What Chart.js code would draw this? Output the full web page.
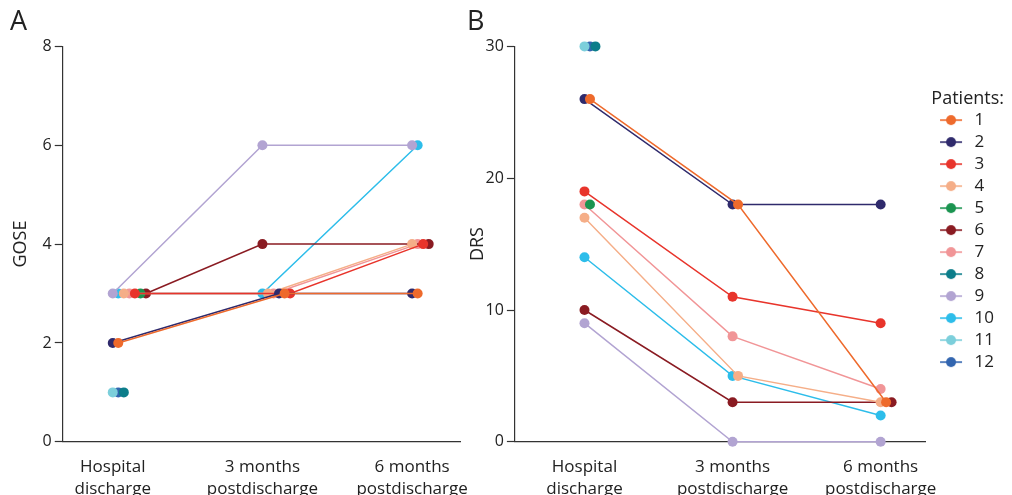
<!DOCTYPE html>
<html>
<head>
<meta charset="utf-8">
<script src="https://cdn.jsdelivr.net/npm/chart.js@4.4.1/dist/chart.umd.min.js"></script>
<style>
  html, body { margin: 0; padding: 0; background: #fff; width: 1012px; height: 495px; overflow: hidden; }
  #wrapA { position: absolute; left: 0; top: 0; width: 490px; height: 512px; }
  #wrapB { position: absolute; left: 463px; top: 0; width: 549px; height: 512px; }
</style>
</head>
<body>
<div id="wrapA"><canvas id="chartA"></canvas></div>
<div id="wrapB"><canvas id="chartB"></canvas></div>
<script>
// categories and tick labels
var timepoints = [['Hospital', 'discharge'], ['3 months', 'postdischarge'], ['6 months', 'postdischarge']];
var patients = ['1', '2', '3', '4', '5', '6', '7', '8', '9', '10', '11', '12'];
var colors = ['#EE6A2C', '#2F2A6C', '#E8342B', '#F5AE88', '#1B9450', '#8A1B22',
              '#F19597', '#0C7D8A', '#B2A4D2', '#2DBDEA', '#7CCFDB', '#3265AF'];

// GOSE per patient (index = patient - 1)
var goseDischarge = [2, 2, 3, 3, 3, 3, 3, 1, 3, 3, 1, 1];
var gose3m        = [3, 3, 3, 3, null, 4, 3, null, 6, 3, null, null];
var gose6m        = [3, 3, 4, 4, null, 4, 4, null, 6, 6, null, null];

// DRS per patient
var drsDischarge = [26, 26, 19, 17, 18, 10, 18, 30, 9, 14, 30, 30];
var drs3m        = [18, 18, 11, 5, null, 3, 8, null, 0, 5, null, null];
var drs6m        = [3, 18, 9, 3, null, 3, 4, null, 0, 2, null, null];

// order used to spread overlapping points sideways
var dodgeOrder = [9, 11, 10, 12, 4, 7, 2, 8, 1, 3, 5, 6];
var dodgeStep = 0.037;

var textColor = '#222';
var axisColor = '#333';
var fontFamily = "'Open Sans', 'Noto Sans', sans-serif";

function dodged(columns) {
  // returns x offsets [patient][time]
  var offs = patients.map(function () { return [0, 0, 0]; });
  columns.forEach(function (col, t) {
    var groups = {};
    dodgeOrder.forEach(function (p) {
      var v = col[p - 1];
      if (v === null) return;
      groups[v] = groups[v] || [];
      groups[v].push(p - 1);
    });
    Object.keys(groups).forEach(function (k) {
      groups[k].forEach(function (idx, r) { offs[idx][t] = r * dodgeStep; });
    });
  });
  return offs;
}

function buildDatasets(columns) {
  var offs = dodged(columns);
  return patients.map(function (p, i) {
    var pts = [];
    columns.forEach(function (col, t) {
      if (col[i] !== null) pts.push({ x: t + offs[i][t], y: col[i] });
    });
    return {
      label: p,
      data: pts,
      borderColor: colors[i],
      backgroundColor: colors[i],
      borderWidth: 1.5,
      pointRadius: 5,
      pointHoverRadius: 5,
      pointBorderWidth: 0,
      clip: false
    };
  });
}

// legend marker: short line with a dot, drawn inside a wider box
var markerBox = 36;
function markerImage(color) {
  var c = document.createElement('canvas');
  c.width = markerBox; c.height = 12;
  var g = c.getContext('2d');
  g.strokeStyle = color; g.lineWidth = 1.6;
  g.beginPath(); g.moveTo(10, 6); g.lineTo(32, 6); g.stroke();
  g.fillStyle = color;
  g.beginPath(); g.arc(21, 6, 5, 0, Math.PI * 2); g.fill();
  return c;
}
var markers = colors.map(markerImage);

function xScale(min, max) {
  return {
    type: 'linear', min: min, max: max,
    afterBuildTicks: function (axis) { axis.ticks = [0, 1, 2].map(function (v) { return { value: v }; }); },
    ticks: {
      callback: function (v) { return timepoints[v]; },
      font: { family: fontFamily, size: 17, lineHeight: 1.3 },
      color: textColor, padding: 6, maxRotation: 0, autoSkip: false
    },
    grid: { display: false },
    border: { display: true, color: axisColor, width: 1.2 }
  };
}

function yScale(max, step, title, titleGap) {
  return {
    min: 0, max: max,
    ticks: { stepSize: step, font: { family: fontFamily, size: 16 }, color: textColor, padding: 3 },
    grid: { drawOnChartArea: false, tickLength: 8, color: axisColor, tickWidth: 1.2 },
    border: { display: true, color: axisColor, width: 1.2 },
    title: { display: true, text: title, font: { family: fontFamily, size: 18 }, color: textColor, padding: { top: 0, bottom: titleGap } }
  };
}

function panelTitle(letter) {
  return {
    display: true, text: letter, align: 'start', color: textColor,
    font: { family: fontFamily, size: 27, weight: 'normal' },
    padding: { top: 6, bottom: 8 }
  };
}

Chart.defaults.animation = false;

new Chart(document.getElementById('chartA'), {
  type: 'line',
  data: { datasets: buildDatasets([goseDischarge, gose3m, gose6m]) },
  options: {
    responsive: true, maintainAspectRatio: false,
    layout: { padding: { left: 10, right: 30, top: 0, bottom: 6 } },
    scales: { x: xScale(-0.334, 2.32), y: yScale(8, 2, 'GOSE', 8) },
    plugins: { legend: { display: false }, tooltip: { enabled: false }, title: panelTitle('A') }
  }
});

new Chart(document.getElementById('chartB'), {
  type: 'line',
  data: { datasets: buildDatasets([drsDischarge, drs3m, drs6m]) },
  options: {
    responsive: true, maintainAspectRatio: false,
    layout: { padding: { left: 4, right: 8, top: 0, bottom: 6 } },
    scales: { x: xScale(-0.47, 2.3), y: yScale(30, 10, 'DRS', -6) },
    plugins: {
      tooltip: { enabled: false },
      title: panelTitle('B'),
      legend: {
        position: 'right', align: 'start',
        title: { display: true, position: 'end', text: 'Patients:', color: textColor, font: { family: fontFamily, size: 18 }, padding: { top: 90, bottom: -5 } },
        labels: {
          usePointStyle: true, pointStyleWidth: markerBox, padding: 5, color: textColor,
          font: { family: fontFamily, size: 17 },
          generateLabels: function (chart) {
            var items = Chart.defaults.plugins.legend.labels.generateLabels(chart);
            items.sort(function (a, b) { return a.datasetIndex - b.datasetIndex; });
            items.forEach(function (it) { it.pointStyle = markers[it.datasetIndex]; });
            return items;
          }
        }
      }
    }
  }
});
</script>
</body>
</html>
